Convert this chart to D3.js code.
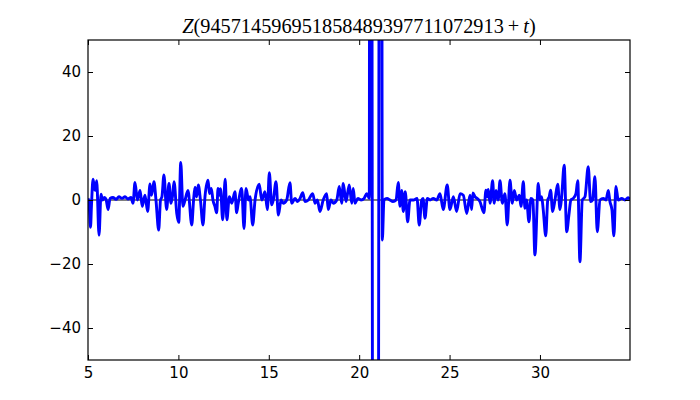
<!DOCTYPE html>
<html>
<head>
<meta charset="utf-8">
<script src="https://cdn.jsdelivr.net/npm/d3@7"></script>
<style>
body { margin: 0; background: #fff; }
svg { display: block; }
.tick text { font-family: "DejaVu Sans", sans-serif; font-size: 15px; fill: #000; }
</style>
</head>
<body>
<svg id="chart" width="700" height="400"></svg>
<script>
// t values (offset from 945714596951858489397711072913)
var tVals = [
  5.00,5.06,5.14,5.19,5.28,5.36,5.41,5.48,5.61,5.72,
  5.80,5.91,6.00,6.11,6.22,6.38,6.55,6.71,6.88,7.05,
  7.21,7.38,7.49,7.60,7.73,7.88,8.00,8.15,8.30,8.43,
  8.51,8.58,8.65,8.76,8.91,9.01,9.09,9.20,9.35,9.48,
  9.59,9.67,9.76,9.91,10.02,10.13,10.25,10.37,10.53,10.74,
  10.84,10.92,11.01,11.10,11.22,11.36,11.47,11.64,11.72,11.82,
  11.91,12.02,12.12,12.19,12.27,12.33,12.45,12.59,12.68,12.82,
  12.95,13.13,13.22,13.31,13.50,13.63,13.74,13.88,13.96,14.11,
  14.24,14.47,14.61,14.79,14.92,15.03,15.16,15.25,15.40,15.53,
  15.68,15.80,15.99,16.17,16.27,16.45,16.59,16.73,16.88,17.00,
  17.19,17.43,17.56,17.69,17.83,18.01,18.20,18.29,18.44,18.57,
  18.76,18.90,19.03,19.12,19.27,19.45,19.59,19.67,19.77,19.93,
  20.10,20.27,20.42,20.56,20.60,20.90,21.21,21.28,21.37,21.54,
  21.70,21.87,22.04,22.16,22.26,22.35,22.44,22.55,22.68,22.81,
  23.03,23.20,23.32,23.46,23.53,23.64,23.77,23.92,24.10,24.29,
  24.47,24.65,24.87,25.02,25.21,25.39,25.58,25.76,25.95,26.13,
  26.22,26.29,26.41,26.52,26.68,26.90,27.01,27.10,27.14,27.24,
  27.38,27.47,27.57,27.69,27.79,27.92,28.06,28.19,28.34,28.47,
  28.58,28.71,28.86,28.95,29.08,29.17,29.26,29.39,29.50,29.61,
  29.72,29.91,30.00,30.09,30.18,30.32,30.43,30.51,30.59,30.70,
  30.83,30.98,31.11,31.20,31.34,31.48,31.60,31.71,31.84,31.99,
  32.09,32.21,32.34,32.49,32.67,32.80,32.91,33.04,33.17,33.32,
  33.50,33.65,33.78,33.87,33.98,34.09,34.20,34.33,34.52,34.70,
  34.87,34.98
];
// Z(T + t) at those points
var zVals = [
  0.5,-1,-8.5,-2,6.5,3.5,3,6,-11,1.8,
  0,0.8,0.2,-3,0.5,0.8,0.2,1,0.5,1,
  0.3,0.8,-1,5.5,0,3,-2,1.5,-3.6,5,
  1.5,3.5,5.7,0,-9.4,0,1,7.8,-3,5.2,
  -1,1,5.7,-4.2,-7,11.7,-2,0,3,-7.8,
  0,4,1,4.7,0,-7.8,1,6.2,2,3.6,
  0,-2,-4,3.6,1.5,3.5,-6.2,6.5,-6.2,1,
  -1,2.6,-4,-1,3.6,-8.9,3.6,0,1,-7.8,
  0,4.9,0,2.6,-3,8.5,-1.5,0,5.7,-4.7,
  0,-1,0,5.4,-1,0.5,-0.5,0.5,2.3,-0.5,
  0,2,-1,0,-3.6,0,2,-3,0,-1,
  0,4.2,-1,5.2,-0.5,4.7,-1,3.6,-1,0.5,
  0,0.5,2,0.5,400,-700,400,-12.5,0,0.5,
  0,-0.5,0,5.5,-2,3,-3.6,2.6,-6.8,0,
  0,0.5,-7.8,0,0.5,-5.7,0.5,0,0.5,0,
  2,-3,4.7,-3,1,-3.6,2,1.5,-4.2,1.5,
  -3,2.2,1,0.5,-0.5,-4,3.1,1,3.3,-1,
  6,-1,3,0,6,-1,2,-7.8,6.2,-1,
  3,0,1.5,-2,5.7,-2.6,0,-6.8,0.5,0,
  -17.2,5.2,0,1,-3,-11.2,0,1,3.1,-3.6,
  0,4.9,-3,1,10.9,-9.9,-4.7,0,0.5,2,
  6,-19.3,0,1,10.4,-0.5,0,7.3,-9.9,0,
  0.5,0,3,-0.5,-3,-11.2,4.2,0,0.5,0,
  0.7,0.2
];
var xTicks = [5, 10, 15, 20, 25, 30];
var yTicks = [-40, -20, 0, 20, 40];
var titleDigits = "945714596951858489397711072913";

var axL = 88, axR = 630, axT = 40, axB = 360;

var svg = d3.select("#chart");

var x = d3.scaleLinear().domain([5, 34.98]).range([axL, axR]);
var y = d3.scaleLinear().domain([-50, 50]).range([axB, axT]);

svg.append("clipPath").attr("id", "clip")
  .append("rect")
  .attr("x", axL).attr("y", axT)
  .attr("width", axR - axL).attr("height", axB - axT);

var plot = svg.append("g").attr("clip-path", "url(#clip)");

// zero line under the curve
plot.append("line")
  .attr("x1", axL).attr("x2", axR)
  .attr("y1", y(0)).attr("y2", y(0))
  .attr("stroke", "#000")
  .attr("stroke-width", 1);

var pts = tVals.map(function(t, i){ return [t, zVals[i]]; });

var line = d3.line()
  .x(function(d){ return x(d[0]); })
  .y(function(d){ return y(d[1]); })
  .curve(d3.curveMonotoneX);

plot.append("path")
  .attr("d", line(pts))
  .attr("fill", "none")
  .attr("stroke", "#0000ff")
  .attr("stroke-width", 2.9)
  .attr("stroke-linejoin", "round");

// axes, ticks pointing inward on all four sides
function fmt(d){ return d < 0 ? "\u2212" + Math.abs(d) : "" + d; }

svg.append("g")
  .attr("transform", "translate(0," + axB + ")")
  .call(d3.axisBottom(x).tickValues(xTicks).tickSizeInner(-5).tickSizeOuter(0).tickPadding(7).tickFormat(fmt))
  .call(function(g){ g.select(".domain").remove(); });

svg.append("g")
  .attr("transform", "translate(0," + axT + ")")
  .call(d3.axisTop(x).tickValues(xTicks).tickSizeInner(-5).tickSizeOuter(0).tickFormat(""))
  .call(function(g){ g.select(".domain").remove(); });

svg.append("g")
  .attr("transform", "translate(" + axL + ",0)")
  .call(d3.axisLeft(y).tickValues(yTicks).tickSizeInner(-5).tickSizeOuter(0).tickPadding(7).tickFormat(fmt))
  .call(function(g){ g.select(".domain").remove(); });

svg.append("g")
  .attr("transform", "translate(" + axR + ",0)")
  .call(d3.axisRight(y).tickValues(yTicks).tickSizeInner(-5).tickSizeOuter(0).tickFormat(""))
  .call(function(g){ g.select(".domain").remove(); });

svg.selectAll(".tick line").attr("stroke", "#000").attr("stroke-width", 1);

svg.append("rect")
  .attr("x", axL).attr("y", axT)
  .attr("width", axR - axL).attr("height", axB - axT)
  .attr("fill", "none")
  .attr("stroke", "#000")
  .attr("stroke-width", 1.2);

// title, math style
var title = svg.append("text")
  .attr("x", (axL + axR) / 2)
  .attr("y", 33)
  .attr("text-anchor", "middle")
  .attr("font-family", "'Liberation Serif', serif")
  .attr("font-size", "20.3px");
title.append("tspan").attr("font-style", "italic").text("Z");
title.append("tspan").text("(" + titleDigits + "\u2009+\u2009");
title.append("tspan").attr("font-style", "italic").text("t");
title.append("tspan").text(")");
</script>
</body>
</html>
